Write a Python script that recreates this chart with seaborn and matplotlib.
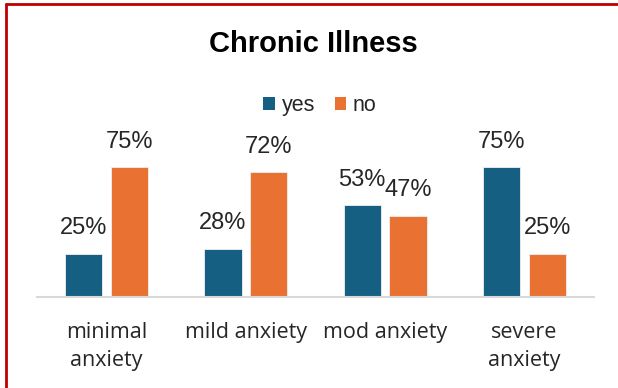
import matplotlib
matplotlib.use("Agg")
import matplotlib.pyplot as plt
import seaborn as sns
import pandas as pd
from matplotlib.patches import Patch
from matplotlib.lines import Line2D

categories = ["minimal\nanxiety", "mild anxiety", "mod anxiety", "severe\nanxiety"]
yes_vals = [25, 28, 53, 75]
no_vals = [75, 72, 47, 25]
series = ["yes", "no"]
colors = ["#156082", "#E97132"]
title = "Chronic Illness"

df = pd.DataFrame({
    "cat": categories * 2,
    "series": ["yes"] * 4 + ["no"] * 4,
    "val": yes_vals + no_vals,
})

sns.set_theme(style="white")
plt.rcParams["font.family"] = ["Liberation Sans", "DejaVu Sans"]

fig = plt.figure(figsize=(6.18, 3.88), dpi=100)
ax = fig.add_axes([37/618, 1-297/388, (594-37)/618, 173/388])

sns.barplot(data=df, x="cat", y="val", hue="series", hue_order=series,
            palette=colors, saturation=1, width=0.66, gap=0.19, ax=ax, legend=False,
            edgecolor="#f0f0f0", linewidth=0.6, errorbar=None)

ax.set_ylim(0, 100)
ax.set_xlim(-0.5, 3.5)
ax.set_xlabel("")
ax.set_ylabel("")
ax.set_yticks([])
for s in ["top", "right", "left"]:
    ax.spines[s].set_visible(False)
ax.spines["bottom"].set_color("#d9d9d9")
ax.spines["bottom"].set_linewidth(1.5)
ax.tick_params(axis="x", length=0, pad=18, labelsize=15.5, colors="#262626")
for t in ax.get_xticklabels():
    t.set_linespacing(1.45)
    t.set_fontfamily(["Open Sans", "DejaVu Sans"])

for cont in ax.containers:
    for bar in cont:
        h = bar.get_height()
        ax.annotate(f"{h:.0f}%", (bar.get_x() + bar.get_width()/2, h),
                    xytext=(0, 18.5), textcoords="offset points",
                    ha="center", va="center", fontsize=17, color="#262626",
                    annotation_clip=False)

fig.text(313/618, 1-44/388, title, ha="center", va="center",
         fontsize=21, fontweight="bold", color="black")

handles = [Patch(facecolor=c, edgecolor="none") for c in colors]
leg = fig.legend(handles, series, loc="center", bbox_to_anchor=(320/618, 1-106/388),
                 ncol=2, frameon=False, fontsize=15.5, handlelength=0.55, handleheight=0.55,
                 handletextpad=0.3, columnspacing=0.9)
for t in leg.get_texts():
    t.set_color("#262626")

# red border on left and top
fig.add_artist(Line2D([6/618, 6/618], [0, 1-4/388], color="#C00000", lw=2, transform=fig.transFigure))
fig.add_artist(Line2D([6/618, 1], [1-4/388, 1-4/388], color="#C00000", lw=2, transform=fig.transFigure))

fig.savefig("out.png", dpi=100)
